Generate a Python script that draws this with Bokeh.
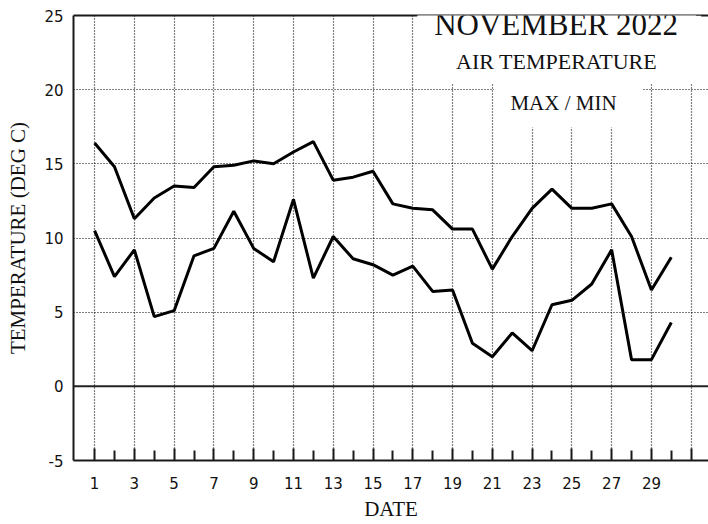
from bokeh.plotting import figure
from bokeh.models import FixedTicker, Span, Label, Range1d, LinearAxis, BoxAnnotation
from bokeh.embed import file_html
from bokeh.resources import INLINE

days = list(range(1, 31))
tmax = [16.4, 14.8, 11.3, 12.7, 13.5, 13.4, 14.8, 14.9, 15.2, 15.0,
        15.8, 16.5, 13.9, 14.1, 14.5, 12.3, 12.0, 11.9, 10.6, 10.6,
        7.9, 10.1, 12.0, 13.3, 12.0, 12.0, 12.3, 10.1, 6.5, 8.7]
tmin = [10.5, 7.4, 9.2, 4.7, 5.1, 8.8, 9.3, 11.8, 9.3, 8.4,
        12.6, 7.3, 10.1, 8.6, 8.2, 7.5, 8.1, 6.4, 6.5, 2.9,
        2.0, 3.6, 2.4, 5.5, 5.8, 6.9, 9.2, 1.8, 1.8, 4.3]
x_major = list(range(1, 32, 2))
x_minor = list(range(2, 31, 2))
y_ticks = [-5, 0, 5, 10, 15, 20, 25]

TITLE = "NOVEMBER 2022"
SUB1 = "AIR TEMPERATURE"
SUB2 = "MAX / MIN"

p = figure(width=708, height=524, output_backend="svg", toolbar_location=None,
           x_range=Range1d(-0.06, 31.87), y_range=Range1d(-5, 25),
           min_border_left=73, min_border_top=15, min_border_right=0,
           min_border_bottom=64, background_fill_color="white",
           border_fill_color="white", outline_line_color=None)

# axes
xa = p.xaxis[0]
xa.ticker = FixedTicker(ticks=x_major, minor_ticks=x_minor)
xa.major_label_overrides = {31: ""}
xa.axis_label = "DATE"
ya = p.yaxis[0]
ya.ticker = FixedTicker(ticks=y_ticks)
ya.major_label_overrides = {-5: "-5"}
ya.axis_label = "TEMPERATURE (DEG C)"
for ax in (xa, ya):
    ax.axis_line_width = 2
    ax.axis_line_color = "#1a1a1a"
    ax.major_label_text_font = "DejaVu Sans"
    ax.major_label_text_font_size = "15px"
    ax.major_label_text_color = "#111111"
    ax.axis_label_text_font = "Liberation Serif"
    ax.axis_label_text_font_size = "21px"
    ax.axis_label_text_font_style = "normal"
    ax.axis_label_text_color = "#111111"
xa.major_tick_in = 12
xa.major_tick_out = 0
xa.minor_tick_in = 10
xa.minor_tick_out = 0
xa.major_tick_line_width = 2
xa.minor_tick_line_width = 2
xa.major_tick_line_color = "#1a1a1a"
xa.minor_tick_line_color = "#1a1a1a"
xa.major_label_standoff = 16
xa.axis_label_standoff = 5
ya.major_tick_in = 0
ya.major_tick_out = 0
ya.minor_tick_line_color = None
ya.major_label_standoff = 10
ya.axis_label_standoff = 11

top = LinearAxis(ticker=FixedTicker(ticks=[]), major_label_text_font_size="0px",
                 axis_line_width=2, axis_line_color="#1a1a1a",
                 major_tick_line_color=None, minor_tick_line_color=None)
p.add_layout(top, "above")

# grid
p.xgrid.ticker = FixedTicker(ticks=x_major)
p.ygrid.ticker = FixedTicker(ticks=y_ticks)
for g in (p.xgrid[0], p.ygrid[0]):
    g.grid_line_color = "#000000"
    g.grid_line_dash = "1 2"
    g.grid_line_width = 1.2

p.add_layout(Span(location=0, dimension="width", line_color="#222222", line_width=2))

# data
p.line(days, tmax, line_color="black", line_width=3)
p.line(days, tmin, line_color="black", line_width=3)

# white panels behind the title block
p.add_layout(BoxAnnotation(left=17.3, right=31.5, top=25, bottom=20.41,
                           fill_color="white", fill_alpha=1, line_color=None))
p.add_layout(BoxAnnotation(left=21.08, right=28.55, top=20.5, bottom=17.45,
                           fill_color="white", fill_alpha=1, line_color=None))

lab1 = Label(x=24.23, y=24.4, text=TITLE, text_font="Liberation Serif",
             text_font_size="31px", text_align="center", text_baseline="middle",
             text_color="#111111", background_fill_color="white",
             padding=dict(left=17, right=18, top=0, bottom=0))
lab2 = Label(x=24.23, y=21.93, text=SUB1, text_font="Liberation Serif",
             text_font_size="22px", text_align="center", text_baseline="middle",
             text_color="#111111")
lab3 = Label(x=24.58, y=19.1, text=SUB2, text_font="Liberation Serif",
             text_font_size="21px", text_align="center", text_baseline="middle",
             text_color="#111111")
for l in (lab1, lab2, lab3):
    p.add_layout(l)

open("out.html", "w").write(file_html(p, INLINE))
